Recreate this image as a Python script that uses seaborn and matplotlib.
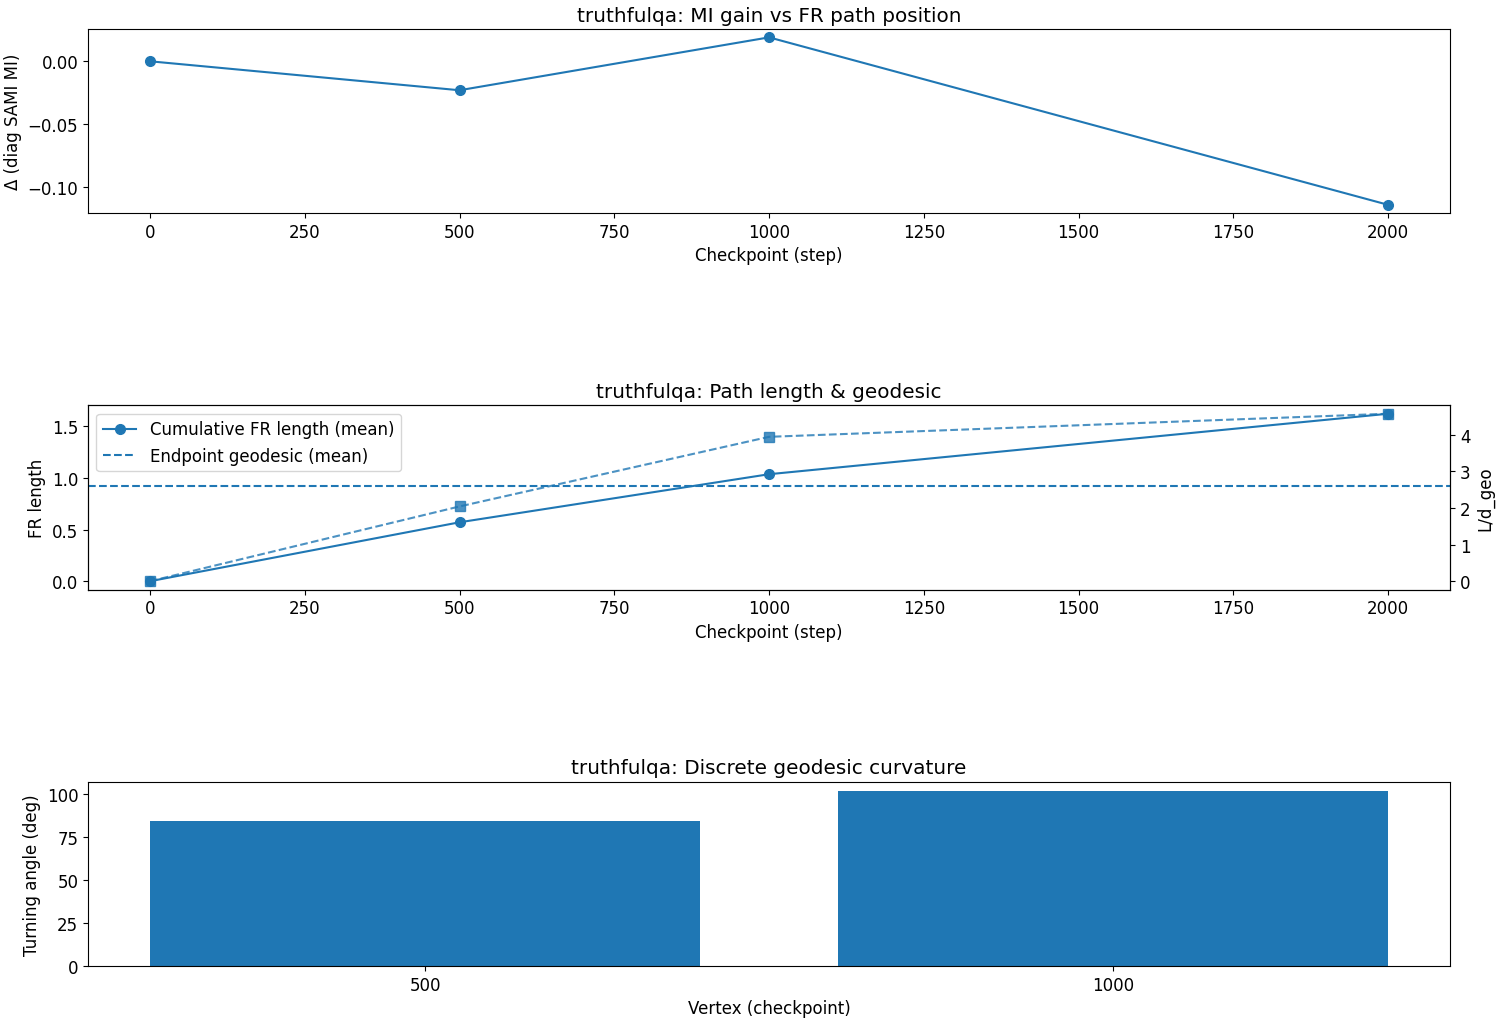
import matplotlib
matplotlib.use("Agg")
import matplotlib.pyplot as plt
from matplotlib.ticker import MultipleLocator
import seaborn as sns
import pandas as pd

# ---- data ----
steps = [0, 500, 1000, 2000]
mi_gain = [0.0, -0.023, 0.019, -0.114]
fr_length = [0.0, 0.57, 1.035, 1.62]
ratio_L_dgeo = [0.0, 2.04, 3.94, 4.57]
geodesic_mean = 0.92
vertices = ["500", "1000"]
turning_deg = [84.3, 102.3]

C0 = "#1f77b4"
plt.rcParams["font.size"] = 12

fig, axes = plt.subplots(3, 1, figsize=(15, 10.2), dpi=100)
fig.subplots_adjust(left=0.0587, right=0.9667, top=0.9706, bottom=0.052, hspace=1.043)

mk = dict(markeredgewidth=1, markersize=7, linewidth=1.5)

# ---- top ----
ax = axes[0]
df1 = pd.DataFrame({"step": steps, "mi": mi_gain})
sns.lineplot(data=df1, x="step", y="mi", marker="o", color=C0, ax=ax,
             markeredgecolor=C0, **mk)
ax.set_title("truthfulqa: MI gain vs FR path position")
ax.set_xlabel("Checkpoint (step)")
ax.set_ylabel("Δ (diag SAMI MI)")

# ---- middle ----
ax = axes[1]
df2 = pd.DataFrame({"step": steps, "fr": fr_length, "ratio": ratio_L_dgeo})
sns.lineplot(data=df2, x="step", y="fr", marker="o", color=C0, ax=ax,
             markeredgecolor=C0, label="Cumulative FR length (mean)",
             legend=False, **mk)
ax.axhline(geodesic_mean, linestyle="--", color=C0, linewidth=1.5,
           label="Endpoint geodesic (mean)")
ax.set_title("truthfulqa: Path length & geodesic")
ax.set_xlabel("Checkpoint (step)")
ax.set_ylabel("FR length")
ax2 = ax.twinx()
sns.lineplot(data=df2, x="step", y="ratio", marker="s", color=C0, ax=ax2,
             markeredgecolor=C0, linestyle="--", alpha=0.8, legend=False, **mk)
ax2.yaxis.set_major_locator(MultipleLocator(1))
ax2.set_ylabel("L/d_geo")
ax2.set_xlabel("")
h, l = ax.get_legend_handles_labels()
ax.legend(h, l, loc="upper left")

# ---- bottom ----
ax = axes[2]
df3 = pd.DataFrame({"vertex": vertices, "angle": turning_deg})
sns.barplot(data=df3, x="vertex", y="angle", color=C0, saturation=1, ax=ax, width=0.8)
ax.set_xlim(-0.49, 1.49)
ax.set_title("truthfulqa: Discrete geodesic curvature")
ax.set_xlabel("Vertex (checkpoint)")
ax.set_ylabel("Turning angle (deg)")

fig.savefig("out.png", dpi=100)
